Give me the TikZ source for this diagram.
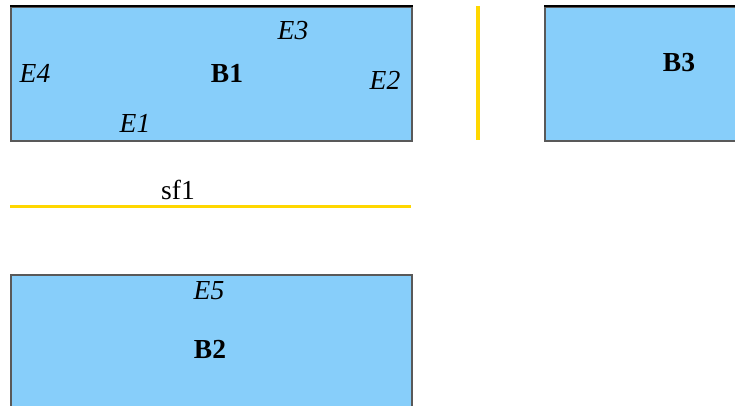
\documentclass[tikz,border=0pt]{standalone}
\usepackage{fontspec}
\setmainfont{Liberation Serif}
\begin{document}
\begin{tikzpicture}[x=1pt,y=-1pt,
  block/.style={draw=black!65, fill=skyfill, line width=1.8pt, inner sep=0pt,
                minimum width=401pt, minimum height=134pt, anchor=north west},
  blocklabel/.style={font=\fontsize{27.5}{32}\selectfont\bfseries, inner sep=0pt},
  edgelabel/.style={font=\fontsize{27.5}{32}\selectfont\itshape, inner sep=0pt},
  flowlabel/.style={font=\fontsize{27.5}{32}\selectfont, inner sep=0pt},
  barrier/.style={draw=gold, line width=3.2pt}]
\definecolor{skyfill}{HTML}{87CEFA}
\definecolor{gold}{HTML}{FFD700}
\useasboundingbox (0,0) rectangle (735,406);
\clip (0,0) rectangle (735,406);

% blocks
\node[block] (B1box) at (10,6) {};
\node[block] (B3box) at (544,6) {};
\node[block] (B2box) at (10,274) {};
\draw[black, line width=1.8pt] (B1box.north west) -- (B1box.north east);
\draw[black, line width=1.8pt] (B3box.north west) -- (B3box.north east);

% block names
\node[blocklabel] (B1) at (227,73) {B1};
\node[blocklabel] (B3) at (679,63) {B3};
\node[blocklabel] (B2) at (210,349) {B2};

% entries
\node[edgelabel] (E3) at (293,31) {E3};
\node[edgelabel] (E4) at (35,73) {E4};
\node[edgelabel] (E2) at (385,80) {E2};
\node[edgelabel] (E1) at (135,123) {E1};
\node[edgelabel] (E5) at (209,291) {E5};

% separators
\coordinate (vtop) at (478,6);
\coordinate (vbot) at (478,140);
\draw[barrier] (vtop) -- (vbot);
\coordinate (hleft) at (10,206.5);
\coordinate (hright) at (411,206.5);
\draw[barrier] (hleft) -- (hright);
\node[flowlabel] (sf1) at (178,190) {sf1};
\end{tikzpicture}
\end{document}
